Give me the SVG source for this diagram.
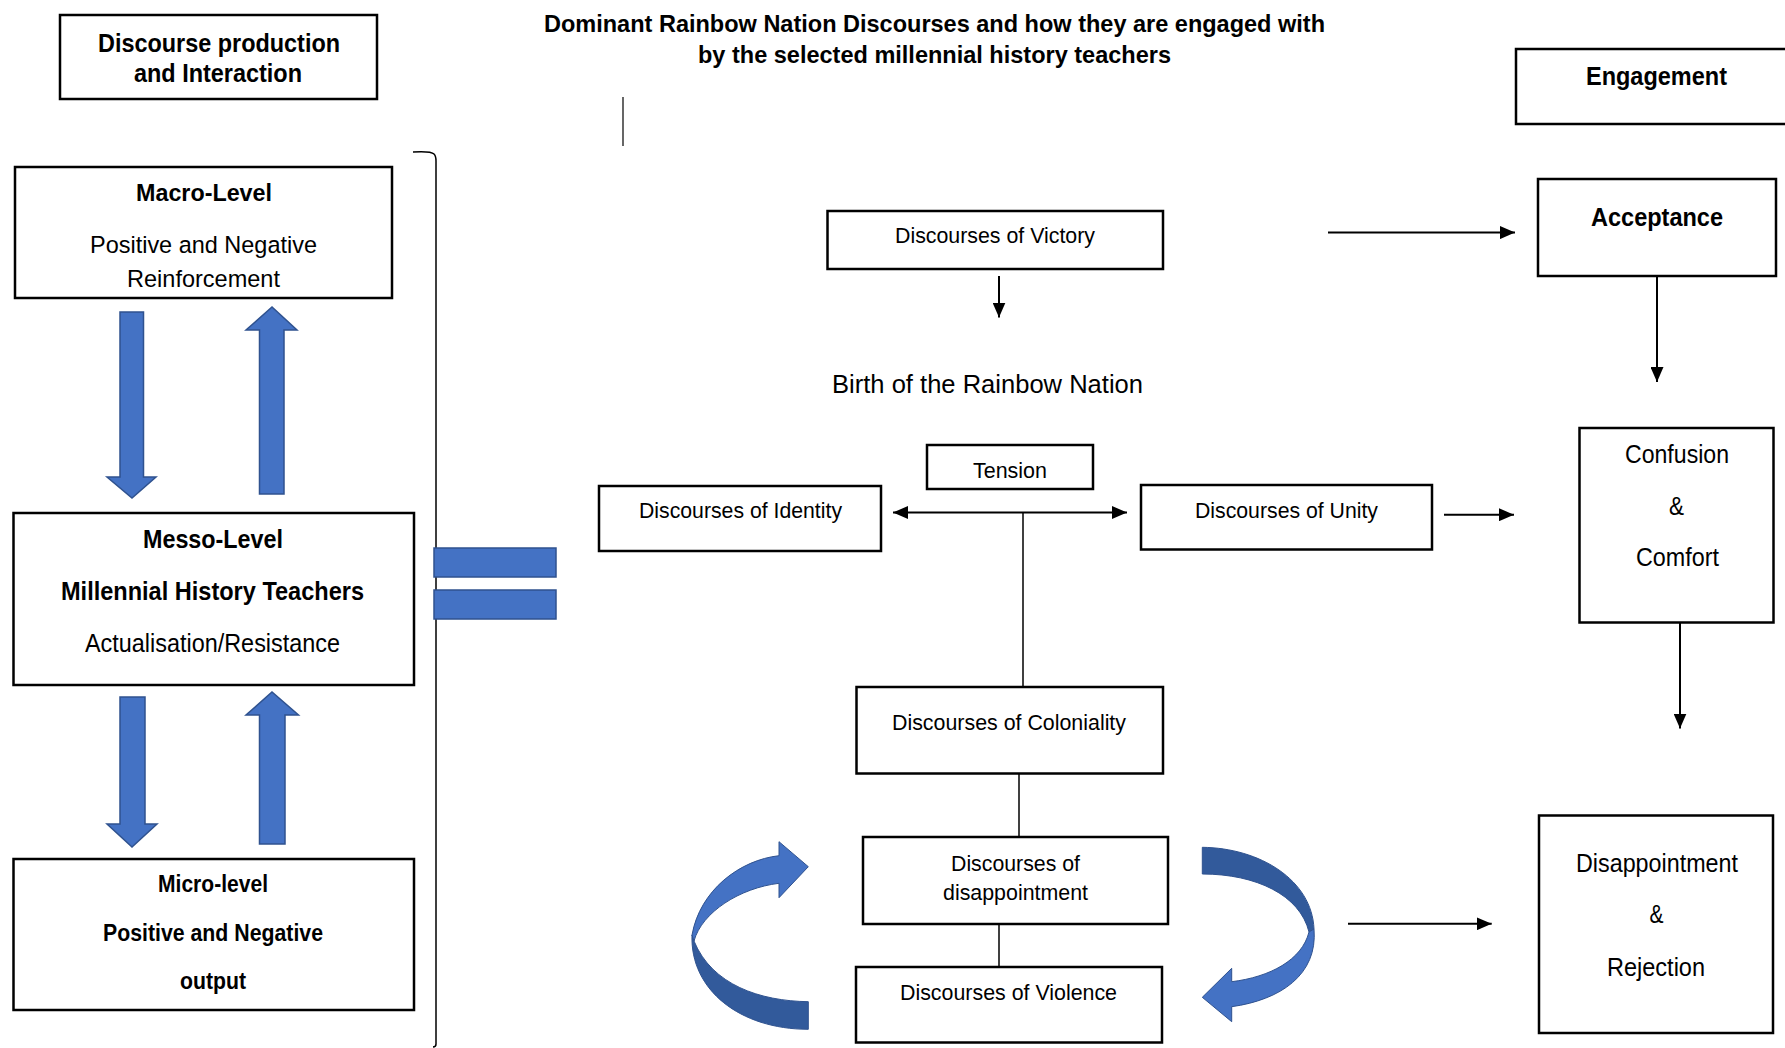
<svg xmlns="http://www.w3.org/2000/svg" width="1785" height="1048" viewBox="0 0 1785 1048">
  <style>
    .box { fill: #fff; stroke: #000; stroke-width: 2.5; }
    .t { font-family: "Liberation Sans", Arial, sans-serif; fill: #000; }
    .b { font-weight: bold; }
    .con { fill: none; stroke: #000; stroke-width: 2; }
    .thin { fill: none; stroke: #000; stroke-width: 1.5; }
    .blk { fill: #4472C4; stroke: #2F528F; stroke-width: 1.5; }
    .back { fill: #325A9B; stroke: #2F528F; stroke-width: 1; }
    .front { fill: #4472C4; stroke: #2F528F; stroke-width: 1; }
  </style>
  <defs>
    <marker id="ah" markerUnits="userSpaceOnUse" viewBox="0 0 15 13" markerWidth="15" markerHeight="13" refX="15" refY="6.5" orient="auto-start-reverse">
      <path d="M0,0 L15,6.5 L0,13 z" fill="#000"/>
    </marker>
  </defs>
  <rect width="1785" height="1048" fill="#fff"/>

  <!-- Title -->
  <g id="title">
    <text class="t b" x="544" y="32" font-size="24" textLength="781" lengthAdjust="spacingAndGlyphs">Dominant Rainbow Nation Discourses and how they are engaged with</text>
    <text class="t b" x="698" y="63" font-size="24" textLength="473" lengthAdjust="spacingAndGlyphs">by the selected millennial history teachers</text>
  </g>

  <!-- Left column: levels of discourse production -->
  <g id="discourse-production">
    <rect class="box" x="60" y="15" width="317" height="84"/>
    <text class="t b" x="98" y="52" font-size="26.5" textLength="242" lengthAdjust="spacingAndGlyphs">Discourse production</text>
    <text class="t b" x="134" y="82" font-size="26.5" textLength="168" lengthAdjust="spacingAndGlyphs">and Interaction</text>
  </g>

  <g id="macro-level">
    <rect class="box" x="15" y="167" width="377" height="131"/>
    <text class="t b" x="136" y="201" font-size="24.5" textLength="136" lengthAdjust="spacingAndGlyphs">Macro-Level</text>
    <text class="t" x="90" y="253" font-size="24.5" textLength="227" lengthAdjust="spacingAndGlyphs">Positive and Negative</text>
    <text class="t" x="127" y="287" font-size="24.5" textLength="153" lengthAdjust="spacingAndGlyphs">Reinforcement</text>
  </g>

  <g id="messo-level">
    <rect class="box" x="13.5" y="513" width="400.5" height="172"/>
    <text class="t b" x="143" y="548" font-size="25.5" textLength="140" lengthAdjust="spacingAndGlyphs">Messo-Level</text>
    <text class="t b" x="61" y="600" font-size="25.5" textLength="303" lengthAdjust="spacingAndGlyphs">Millennial History Teachers</text>
    <text class="t" x="85" y="652" font-size="25.5" textLength="255" lengthAdjust="spacingAndGlyphs">Actualisation/Resistance</text>
  </g>

  <g id="micro-level">
    <rect class="box" x="13.5" y="859" width="400.5" height="151"/>
    <text class="t b" x="158" y="892" font-size="23.5" textLength="110" lengthAdjust="spacingAndGlyphs">Micro-level</text>
    <text class="t b" x="103" y="941" font-size="23.5" textLength="220" lengthAdjust="spacingAndGlyphs">Positive and Negative</text>
    <text class="t b" x="180" y="989" font-size="23.5" textLength="66" lengthAdjust="spacingAndGlyphs">output</text>
  </g>

  <!-- Block arrows between levels, bracket and equals sign -->
  <g id="level-links">
    <path class="blk" d="M120,312 L143.5,312 L143.5,477 L156,477 L132,498 L107,477 L120,477 Z"/>
    <path class="blk" d="M259.5,494 L284,494 L284,330 L297,330 L272,307 L246,330 L259.5,330 Z"/>
    <path class="blk" d="M120,697 L145,697 L145,824 L157,824 L132,847 L107,824 L120,824 Z"/>
    <path class="blk" d="M259.5,844 L285,844 L285,715 L298.5,715 L272,692 L246,715 L259.5,715 Z"/>
    <path class="thin" d="M413,152 Q431,151 434,154 Q436,156 436,161 L436,1044 Q436,1047 433,1047"/>
    <rect class="blk" x="434" y="548" width="122" height="29"/>
    <rect class="blk" x="434" y="590" width="122" height="29"/>
    <line x1="623" y1="97" x2="623" y2="146" stroke="#000" stroke-width="1.2"/>
  </g>

  <!-- Centre column: discourses -->
  <g id="victory">
    <rect class="box" x="827.5" y="211" width="335.5" height="58"/>
    <text class="t" x="895" y="243" font-size="22" textLength="200" lengthAdjust="spacingAndGlyphs">Discourses of Victory</text>
  </g>

  <g id="rainbow-nation">
    <text class="t" x="832" y="393" font-size="26.5" textLength="311" lengthAdjust="spacingAndGlyphs">Birth of the Rainbow Nation</text>
  </g>

  <g id="tension">
    <rect class="box" x="927" y="445" width="166" height="44"/>
    <text class="t" x="973" y="478" font-size="22" textLength="74" lengthAdjust="spacingAndGlyphs">Tension</text>
  </g>

  <g id="identity">
    <rect class="box" x="599" y="486" width="282" height="65"/>
    <text class="t" x="639" y="518" font-size="22" textLength="203" lengthAdjust="spacingAndGlyphs">Discourses of Identity</text>
  </g>

  <g id="unity">
    <rect class="box" x="1141" y="485" width="291" height="64.5"/>
    <text class="t" x="1195" y="518" font-size="22" textLength="183" lengthAdjust="spacingAndGlyphs">Discourses of Unity</text>
  </g>

  <g id="coloniality">
    <rect class="box" x="856.5" y="687" width="306.5" height="86.5"/>
    <text class="t" x="892" y="730" font-size="22" textLength="234" lengthAdjust="spacingAndGlyphs">Discourses of Coloniality</text>
  </g>

  <g id="disappointment">
    <rect class="box" x="863" y="837" width="305" height="87"/>
    <text class="t" x="951" y="870.5" font-size="22" textLength="129" lengthAdjust="spacingAndGlyphs">Discourses of</text>
    <text class="t" x="943" y="899.5" font-size="22" textLength="145" lengthAdjust="spacingAndGlyphs">disappointment</text>
  </g>

  <g id="violence">
    <rect class="box" x="856" y="967" width="306" height="75.5"/>
    <text class="t" x="900" y="999.5" font-size="22" textLength="217" lengthAdjust="spacingAndGlyphs">Discourses of Violence</text>
  </g>

  <!-- Curved cycle arrows around disappointment / violence -->
  <g id="cycle-left">
    <path class="back" d="M692,935 C690,990 740,1029.3 808.3,1029.3 L808.3,1001.7 C760,1001 712,985 694,941 Z"/>
    <path class="front" d="M694,941 C702,912 740,888 779,883.3 L779,897.7 L808.3,866.7 L779,841.7 L779,855.7 C740,860 700,890 692,935 Z"/>
  </g>
  <g id="cycle-right">
    <path class="back" d="M1202.3,847.3 C1260,848 1312,880 1314,929 L1309,932 C1300,895 1256,874 1202.3,874 Z"/>
    <path class="front" d="M1314,929 C1318,975 1280,1000 1231.7,1006.7 L1231.7,1021.7 L1202.3,997.3 L1231.7,968.3 L1231.7,981.7 C1270,977 1302,960 1309,932 Z"/>
  </g>

  <!-- Right column: engagement -->
  <g id="engagement">
    <rect class="box" x="1516" y="49" width="290" height="75"/>
    <text class="t b" x="1586" y="85" font-size="25.5" textLength="141" lengthAdjust="spacingAndGlyphs">Engagement</text>
  </g>

  <g id="acceptance">
    <rect class="box" x="1538" y="179" width="238" height="97"/>
    <text class="t b" x="1591" y="226" font-size="25" textLength="132" lengthAdjust="spacingAndGlyphs">Acceptance</text>
  </g>

  <g id="confusion-comfort">
    <rect class="box" x="1579.5" y="428" width="194" height="194.5"/>
    <text class="t" x="1625" y="462.5" font-size="25.5" textLength="104" lengthAdjust="spacingAndGlyphs">Confusion</text>
    <text class="t" x="1669" y="514.5" font-size="25.5" textLength="15" lengthAdjust="spacingAndGlyphs">&amp;</text>
    <text class="t" x="1636" y="566" font-size="25.5" textLength="83" lengthAdjust="spacingAndGlyphs">Comfort</text>
  </g>

  <g id="disappointment-rejection">
    <rect class="box" x="1539" y="815.5" width="234" height="217.5"/>
    <text class="t" x="1576" y="872" font-size="25.5" textLength="162" lengthAdjust="spacingAndGlyphs">Disappointment</text>
    <text class="t" x="1649.5" y="923" font-size="25.5" textLength="14" lengthAdjust="spacingAndGlyphs">&amp;</text>
    <text class="t" x="1607" y="976" font-size="25.5" textLength="98" lengthAdjust="spacingAndGlyphs">Rejection</text>
  </g>

  <!-- Connectors -->
  <g id="connectors">
    <path class="con" d="M999,276 L999,317.5" marker-end="url(#ah)"/>
    <path class="con" d="M1328,232.6 L1515,232.6" marker-end="url(#ah)"/>
    <path class="con" d="M1657,276 L1657,382" marker-end="url(#ah)"/>
    <path class="con" d="M1444,514.7 L1514,514.7" marker-end="url(#ah)"/>
    <path class="con" d="M1680,622.5 L1680,728.6" marker-end="url(#ah)"/>
    <path class="con" d="M1348,923.8 L1491.7,923.8" marker-end="url(#ah)"/>
    <path class="con" d="M893,512.5 L1127,512.5" marker-start="url(#ah)" marker-end="url(#ah)"/>
    <path class="thin" d="M1023,512.5 L1023,687"/>
    <path class="thin" d="M1019,773.5 L1019,837"/>
    <path class="thin" d="M999,924 L999,967"/>
  </g>
</svg>
